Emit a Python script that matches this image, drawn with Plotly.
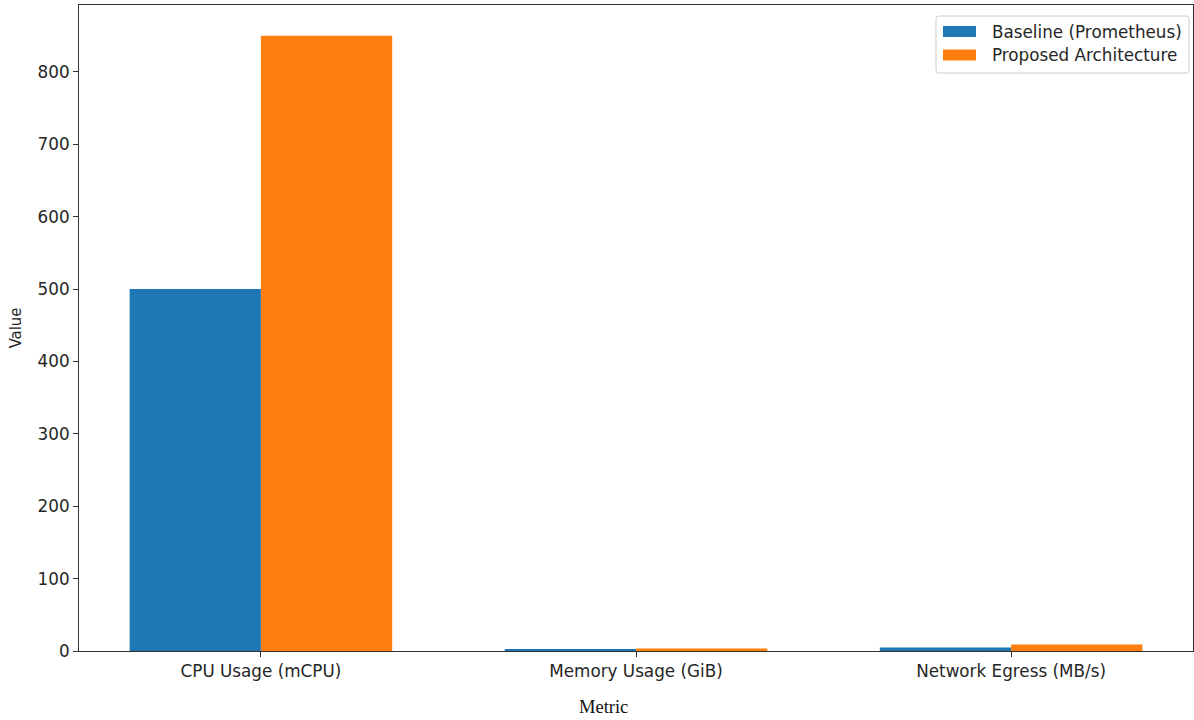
import plotly.graph_objects as go

# Resource usage comparison per metric
metrics = ["CPU Usage (mCPU)", "Memory Usage (GiB)", "Network Egress (MB/s)"]
baseline_values = [500, 2.5, 5]
proposed_values = [850, 3.5, 9]
series_names = ["Baseline (Prometheus)", "Proposed Architecture"]
series_colors = ["#1f77b4", "#ff7f0e"]
y_ticks = [0, 100, 200, 300, 400, 500, 600, 700, 800]

W, H = 1194, 720
M_L, M_R, M_T, M_B = 79, 1, 5, 69
PLOT_W = W - M_L - M_R
PLOT_H = H - M_T - M_B

TICK_FONT = dict(family="DejaVu Sans", size=16.8, color="#262626")


def px_x(x):
    """Figure pixel column -> paper x."""
    return (x - M_L) / PLOT_W


def px_y(y):
    """Figure pixel row -> paper y."""
    return (H - M_B - y) / PLOT_H


fig = go.Figure()
for name, vals, color in zip(series_names, [baseline_values, proposed_values], series_colors):
    fig.add_trace(go.Bar(
        x=list(range(len(metrics))),
        y=vals,
        name=name,
        marker=dict(color=color, line=dict(width=0)),
        showlegend=False,
    ))

fig.update_layout(
    width=W, height=H,
    margin=dict(l=M_L, r=M_R, t=M_T, b=M_B),
    paper_bgcolor="white", plot_bgcolor="white",
    barmode="group", bargap=0.3, bargroupgap=0,
    font=TICK_FONT,
)

fig.update_xaxes(
    range=[-0.485, 2.485],
    tickmode="array", tickvals=list(range(len(metrics))), ticktext=metrics,
    ticks="outside", ticklen=5, tickwidth=1, tickcolor="#333",
    showline=True, linecolor="#333", linewidth=1, mirror=True,
    showgrid=False, zeroline=False,
    tickfont=TICK_FONT,
)
fig.update_yaxes(
    range=[0, 892.5],
    tickmode="array", tickvals=y_ticks,
    ticks="outside", ticklen=5, tickwidth=1, tickcolor="#333",
    showline=True, linecolor="#333", linewidth=1, mirror=True,
    showgrid=False, zeroline=False,
    tickfont=TICK_FONT,
    title=dict(text="Value", font=dict(family="DejaVu Sans Condensed", size=16.5, color="#262626"), standoff=11),
)

# x-axis title, set slightly left of the plot centre
fig.add_annotation(x=px_x(603), y=px_y(718), xref="paper", yref="paper",
                   text="Metric", showarrow=False, xanchor="center", yanchor="bottom",
                   borderpad=0,
                   font=dict(family="Liberation Serif", size=18.5, color="#111"))

# Legend box drawn as a rounded frame with colour swatches
bx0, bx1, by0, by1 = 936, 1189, 16, 73
r = 3
x0, x1 = px_x(bx0), px_x(bx1)
y0, y1 = px_y(by1), px_y(by0)
rx, ry = r / PLOT_W, r / PLOT_H
path = (f"M {x0+rx},{y0} L {x1-rx},{y0} Q {x1},{y0} {x1},{y0+ry} "
        f"L {x1},{y1-ry} Q {x1},{y1} {x1-rx},{y1} L {x0+rx},{y1} "
        f"Q {x0},{y1} {x0},{y1-ry} L {x0},{y0+ry} Q {x0},{y0} {x0+rx},{y0} Z")
fig.add_shape(type="path", path=path, xref="paper", yref="paper",
              line=dict(color="#cccccc", width=1), fillcolor="rgba(255,255,255,0.8)")

for i, (name, color) in enumerate(zip(series_names, series_colors)):
    cy = 31.5 + i * 23.5
    fig.add_shape(type="rect", xref="paper", yref="paper",
                  x0=px_x(943), x1=px_x(976), y0=px_y(cy + 5.5), y1=px_y(cy - 5.5),
                  line=dict(width=0), fillcolor=color)
    fig.add_annotation(x=px_x(990), y=px_y(cy), xref="paper", yref="paper",
                       text=name, showarrow=False, xanchor="left", yanchor="middle",
                       font=TICK_FONT)

fig.write_html("out.html")
